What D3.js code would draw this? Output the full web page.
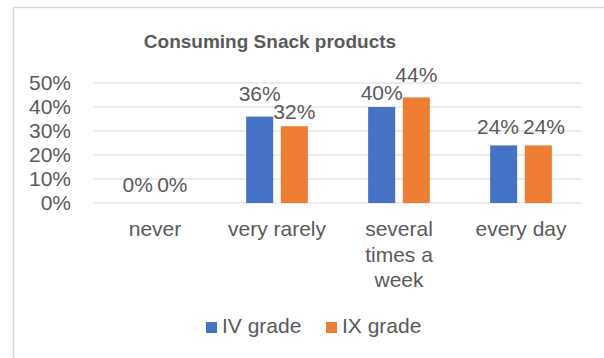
<!DOCTYPE html>
<html>
<head>
<meta charset="utf-8">
<script src="https://cdn.jsdelivr.net/npm/d3@7"></script>
<style>
  body { margin: 0; background: #fff; }
  text { font-family: "Liberation Sans", Arial, sans-serif; fill: #595959; }
</style>
</head>
<body>
<div id="canvas"></div>
<script>
let categories = ["never", "very rarely", "several times a week", "every day"];
let catLines = [["never"], ["very rarely"], ["several", "times a", "week"], ["every day"]];
let seriesNames = ["IV grade", "IX grade"];
let ivGrade = [0, 36, 40, 24];
let ixGrade = [0, 32, 44, 24];
let yTicks = [0, 10, 20, 30, 40, 50];
let colors = ["#4472c4", "#ed7d31"];

let width = 604, height = 358;
let margin = { top: 83, right: 22, bottom: 155, left: 94 };

let svg = d3.select("#canvas")
    .append("svg")
    .attr("width", width)
    .attr("height", height);

// chart frame
svg.append("rect")
    .attr("x", 13.5).attr("y", 7.5)
    .attr("width", 620).attr("height", 400)
    .attr("fill", "none")
    .attr("stroke", "#d9d9d9")
    .attr("stroke-width", 1.5);

svg.append("text")
    .attr("x", 270).attr("y", 48)
    .attr("text-anchor", "middle")
    .attr("font-size", "19px")
    .attr("font-weight", "bold")
    .text("Consuming Snack products");

let x = d3.scaleBand()
    .domain(categories)
    .range([margin.left, width - margin.right]);

let xInner = d3.scaleBand()
    .domain(seriesNames)
    .range([0, x.bandwidth()])
    .paddingInner(0.22)
    .paddingOuter(0.87);

let y = d3.scaleLinear()
    .domain([0, 50])
    .range([height - margin.bottom, margin.top]);

// gridlines
svg.append("g")
    .selectAll("line")
    .data(yTicks)
    .join("line")
    .attr("x1", margin.left)
    .attr("x2", width - margin.right)
    .attr("y1", d => y(d))
    .attr("y2", d => y(d))
    .attr("stroke", "#d9d9d9")
    .attr("stroke-width", 1);

// y axis labels
let yAxis = g => g
    .attr("transform", `translate(${margin.left - 1},0)`)
    .call(d3.axisLeft(y).tickValues(yTicks).tickFormat(d => d + "%").tickSize(0).tickPadding(22))
    .call(g => g.select(".domain").remove())
    .call(g => g.selectAll("text").attr("font-size", "21px").attr("fill", "#595959").attr("font-family", null));
svg.append("g").call(yAxis);

let series = seriesNames.map((s, i) => ({ name: s, values: i === 0 ? ivGrade : ixGrade, color: colors[i] }));

let groups = svg.selectAll("g.series")
    .data(series)
    .join("g")
    .attr("class", "series");

groups.selectAll("rect")
    .data(s => s.values.map((v, i) => ({ s: s, cat: categories[i], v: v })))
    .join("rect")
    .attr("x", d => x(d.cat) + xInner(d.s.name))
    .attr("y", d => y(d.v))
    .attr("width", xInner.bandwidth())
    .attr("height", d => y(0) - y(d.v))
    .attr("fill", d => d.s.color);

// data labels, nudged apart when the pair would collide (like excel does)
let labelG = svg.append("g");
categories.forEach((c, i) => {
    let pair = series.map(s => {
        let t = labelG.append("text")
            .attr("text-anchor", "middle")
            .attr("font-size", "21px")
            .text(s.values[i] + "%");
        return {
            t: t,
            v: s.values[i],
            cx: x(c) + xInner(s.name) + xInner.bandwidth() / 2,
            by: y(s.values[i]) - 11,
            w: t.node().getComputedTextLength()
        };
    });
    let [a, b] = pair;
    let overlapX = (a.w + b.w) / 2 + 4 - (b.cx - a.cx);
    if (overlapX > 0) {
        if (a.v === b.v) {
            a.cx -= overlapX / 2;
            b.cx += overlapX / 2;
        } else {
            let need = 18 - Math.abs(a.by - b.by);
            if (need > 0) {
                let hi = a.by < b.by ? a : b, lo = hi === a ? b : a;
                hi.by -= need / 2;
                lo.by += need / 2;
            }
        }
    }
    pair.forEach(p => p.t.attr("x", p.cx).attr("y", p.by));
});

// category labels
let catG = svg.append("g");
categories.forEach((c, i) => {
    let t = catG.append("text")
        .attr("x", x(c) + x.bandwidth() / 2)
        .attr("y", 236)
        .attr("text-anchor", "middle")
        .attr("font-size", "21px");
    catLines[i].forEach((line, j) => {
        t.append("tspan")
            .attr("x", x(c) + x.bandwidth() / 2)
            .attr("dy", j === 0 ? 0 : 25.5)
            .text(line);
    });
});

// legend
let legend = svg.append("g");
let legendX = [206, 326];
series.forEach((s, i) => {
    legend.append("rect")
        .attr("x", legendX[i]).attr("y", 322)
        .attr("width", 11).attr("height", 11)
        .attr("fill", s.color);
    legend.append("text")
        .attr("x", legendX[i] + 16).attr("y", 333)
        .attr("font-size", "21px")
        .text(s.name);
});
</script>
</body>
</html>
